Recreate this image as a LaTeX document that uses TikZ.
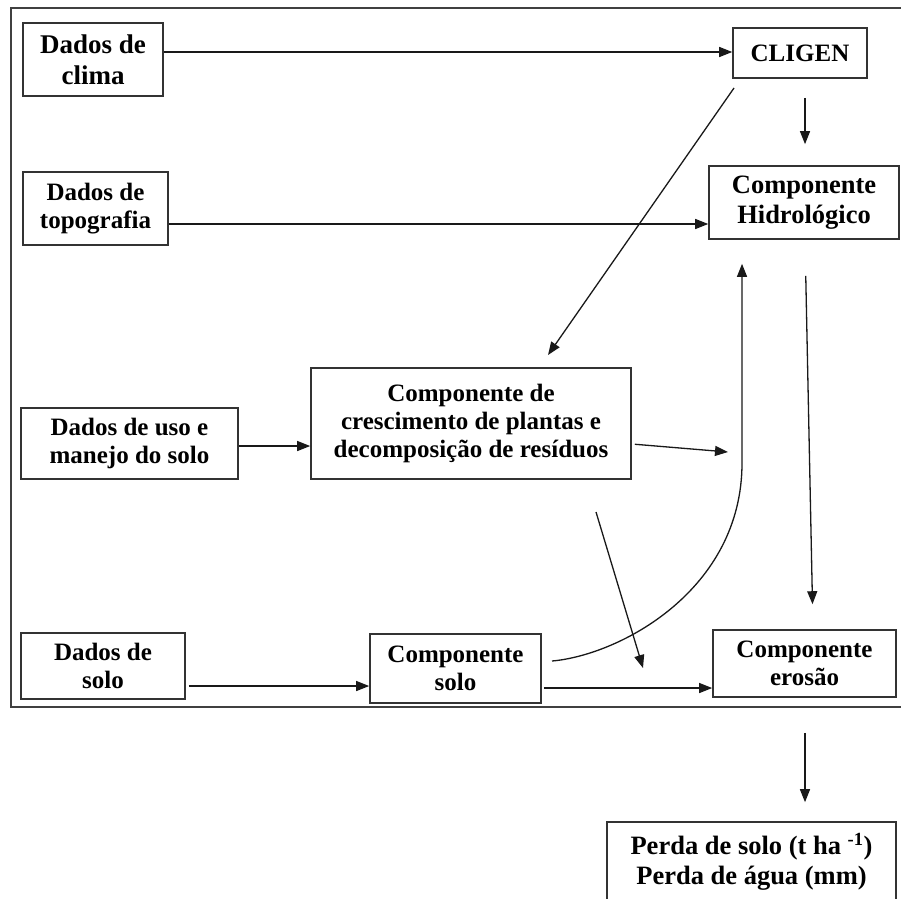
\documentclass[tikz,border=0pt]{standalone}
\usepackage{fontspec}
\setmainfont{Liberation Serif}
\usetikzlibrary{arrows.meta}
\begin{document}
\begin{tikzpicture}[x=1pt,y=-1pt,
  box/.style={draw=black!80, line width=1.6pt, align=center,
    font=\bfseries\fontsize{25}{28}\selectfont, inner sep=0pt},
  bigtext/.style={font=\bfseries\fontsize{27}{31}\selectfont},
  midtext/.style={font=\bfseries\fontsize{26.5}{30}\selectfont},
  arr/.style={-{Triangle[length=13pt,width=10pt]}, line width=1.3pt, draw=black!90},
  frame/.style={draw=black!75, line width=2pt}
]
\useasboundingbox (0,0) rectangle (901,898);
\draw[frame] (11,8) rectangle (920,707);

\node[box, bigtext, minimum width=140pt, minimum height=73pt] (clima) at (93,59.5) {Dados de\\clima};
\node[box, minimum width=145pt, minimum height=73pt] (topo) at (95.5,208.5) {Dados de\\topografia};
\node[box, minimum width=134pt, minimum height=50pt] (cligen) at (800,53) {CLIGEN};
\node[box, midtext, minimum width=190pt, minimum height=73pt] (hidro) at (804,202.5) {Componente\\Hidrológico};
\node[box, minimum width=217pt, minimum height=71pt] (uso) at (129.5,443.5) {Dados de uso e\\manejo do solo};
\node[box, minimum width=320pt, minimum height=111pt] (cresc) at (471,423.5) {Componente de\\crescimento de plantas e\\decomposição de resíduos};
\node[box, minimum width=164pt, minimum height=66pt] (dsolo) at (103,666) {Dados de\\solo};
\node[box, minimum width=171pt, minimum height=69pt] (csolo) at (455.5,668.5) {Componente\\solo};
\node[box, minimum width=183pt, minimum height=67pt] (eros) at (804.5,663.5) {Componente\\erosão};
\node[box, midtext, minimum width=289pt, minimum height=80pt] (perda) at (751.5,862) {Perda de solo (t ha~\textsuperscript{-1})\\Perda de água (mm)};

\coordinate (dgA) at (734,88);
\coordinate (dgB) at (548,355);
\coordinate (hA) at (728,452);
\coordinate (cvA) at (552,661);
\coordinate (cvB) at (742,463);
\coordinate (dcA) at (596,512);
\coordinate (dcB) at (643,668);

\draw[arr] (clima.east |- 0,52) -- (cligen.west |- 0,52);
\draw[arr] (topo.east |- 0,224) -- (hidro.west |- 0,224);
\draw[arr, shorten <=19pt, shorten >=21pt] (cligen.south -| 805,0) -- (hidro.north -| 805,0);
\draw[arr] (dgA) -- (dgB);
\draw[arr] (uso.east |- 0,446) -- (cresc.west |- 0,446);
\draw[arr, shorten <=3pt] (cresc.east |- 0,444) -- (hA);
\draw[arr, shorten >=24pt] (cvA) .. controls (620,655) and (742,590) .. (cvB) -- (hidro.south -| 742,0);
\draw[arr, shorten <=36pt, shorten >=25pt] (hidro.south -| 805,0) -- (eros.north -| 813,0);
\draw[arr] (dcA) -- (dcB);
\draw[arr, shorten <=3pt] (dsolo.east |- 0,686) -- (csolo.west |- 0,686);
\draw[arr, shorten <=2pt] (csolo.east |- 0,688) -- (eros.west |- 0,688);
\draw[arr, shorten <=35pt, shorten >=19pt] (eros.south -| 805,0) -- (perda.north -| 805,0);
\end{tikzpicture}
\end{document}
